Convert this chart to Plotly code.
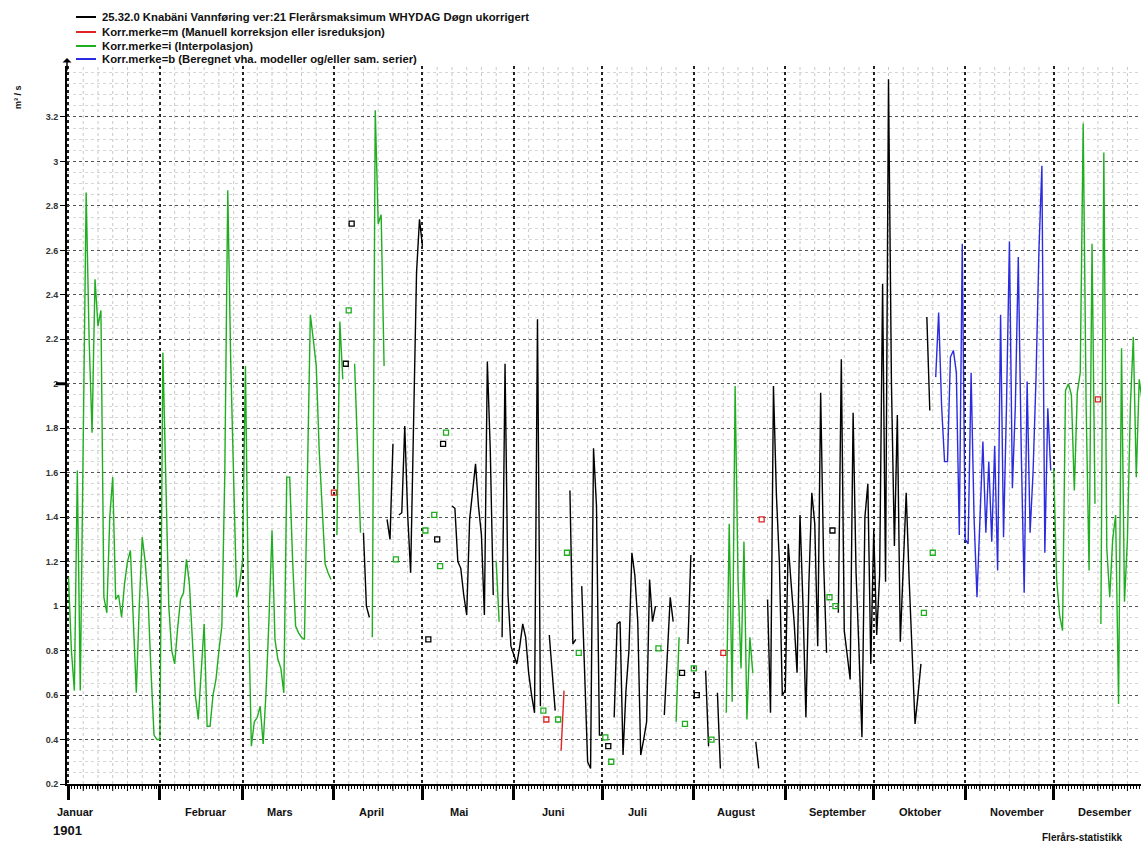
import plotly.graph_objects as go

# ---------------- data ----------------
month_names = ["Januar", "Februar", "Mars", "April", "Mai", "Juni", "Juli",
               "August", "September", "Oktober", "November", "Desember"]
month_start_day = [0, 31, 59, 90, 120, 151, 181, 212, 243, 273, 304, 334]
year_label = "1901"
y_tick_values = [0.2, 0.4, 0.6, 0.8, 1.0, 1.2, 1.4, 1.6, 1.8, 2.0, 2.2, 2.4, 2.6, 2.8, 3.0, 3.2]
y_tick_labels = ["0.2", "0.4", "0.6", "0.8", "1", "1.2", "1.4", "1.6", "1.8", "2",
                 "2.2", "2.4", "2.6", "2.8", "3", "3.2"]
legend_labels = [
    "25.32.0 Knabäni Vannføring ver:21 Flerårsmaksimum WHYDAG Døgn ukorrigert",
    "Korr.merke=m (Manuell korreksjon eller isreduksjon)",
    "Korr.merke=i (Interpolasjon)",
    "Korr.merke=b (Beregnet vha. modeller og/eller sam. serier)",
]
legend_codes = ["k", "m", "i", "b"]

# daily multi-year maximum (m3/s), one value per day; None = no value
jan_q = [1.13, 0.80, 0.62, 1.61, 0.62, 1.80, 2.86, 2.20, 1.78, 2.47, 2.26, 2.33, 1.04, 0.97, 1.40,
         1.58, 1.03, 1.05, 0.95, 1.10, 1.20, 1.25, 0.90, 0.61, 1.00, 1.31, 1.20, 1.03, 0.70, 0.42, 0.40]
jan_f = "iiiiiiiiiiiiiiiiiiiiiiiiiiiiiii"
feb_q = [0.40, 2.14, 1.50, 1.00, 0.80, 0.74, 0.90, 1.03, 1.06, 1.21, 1.10, 0.85, 0.60, 0.49,
         0.70, 0.92, 0.46, 0.46, 0.60, 0.67, 0.80, 0.91, 1.60, 2.87, 2.10, 1.50, 1.04, 1.10]
feb_f = "iiiiiiiiiiiiiiiiiiiiiiiiiiii"
mar_q = [1.20, 2.08, 1.00, 0.37, 0.48, 0.50, 0.55, 0.38, 0.62, 0.95, 1.34, 0.85, 0.76, 0.72, 0.61,
         1.58, 1.58, 1.20, 0.91, 0.88, 0.86, 0.85, 1.60, 2.31, 2.20, 2.08, 1.70, 1.45, 1.19, 1.15, 1.12]
mar_f = "iiiiiiiiiiiiiiiiiiiiiiiiiiiiiii"
apr_q = [1.51, 1.32, 2.28, 2.02, 2.09, 2.33, 2.72, 2.09, 1.70, 1.33, 1.33, 1.00, 0.95, 0.86, 3.23,
         2.72, 2.76, 2.08, 1.39, 1.30, 1.73, 1.21, 1.41, 1.42, 1.81, 1.41, 1.15, 1.90, 2.50, 2.74]
apr_f = "miiikikiiikkkiiiiikkkikkkkkkkk"
mai_q = [2.62, 1.34, 0.85, None, 1.41, 1.30, 1.18, 1.73, 1.78, None, 1.45, 1.44, 1.20, 1.17, 1.05,
         0.96, 1.39, 1.53, 1.64, 1.45, 1.32, 0.96, 2.10, 1.70, 1.05, 1.20, 0.93, 0.86, 2.09, 1.05, 0.82]
mai_f = "kik-ikiki-kkkkkkkkkkkkkkkiikkkk"
jun_q = [0.78, 0.74, 0.82, 0.92, 0.86, 0.70, 0.60, 0.52, 2.29, 0.55, 0.53, 0.49, 0.87, 0.70, 0.53,
         0.49, 0.35, 0.62, 1.24, 1.52, 0.83, 0.85, 0.79, 1.09, 0.65, 0.30, 0.27, 1.71, 1.45, 0.42]
jun_f = "kkkkkkkkkkimkkkimmikkkikkkkkkk"
jul_q = [0.42, 0.41, 0.37, 0.30, 0.50, 0.92, 0.93, 0.33, 0.62, 0.80, 1.24, 1.14, 0.93, 0.33, 0.40,
         0.48, 1.12, 0.93, 1.00, 0.81, None, 0.51, 0.78, 1.04, 0.93, 0.48, 0.86, 0.70, 0.47, 0.83, 1.23]
jul_f = "kikikkkkkkkkkkkkkkki-kkkkiikikk"
aug_q = [0.72, 0.60, None, None, 0.71, 0.37, 0.40, None, 0.61, 0.27, 0.79, 0.52, 1.37, 0.57, 1.99,
         1.11, 0.72, 1.29, 0.49, 0.86, 0.70, 0.39, 0.27, 1.39, None, 1.03, 0.52, 1.99, 1.50, 1.20, 0.60]
aug_f = "ik--kki-kkmiiiiiiiiiikkm-kkkkkk"
sep_q = [0.62, 1.28, 1.10, 0.93, 0.70, 1.41, 1.01, 0.50, 1.10, 1.51, 1.37, 0.82, 1.96, 1.20, 0.79,
         1.04, 1.34, 1.00, 0.97, 2.11, 0.89, 0.78, 0.67, 1.87, 1.15, 0.80, 0.41, 1.40, 1.55, 0.74]
sep_f = "kkkkkkkkkkkkkkkikikkkkkkkkkkkk"
okt_q = [1.34, 0.87, 1.14, 2.45, 1.11, 3.37, 2.00, 1.27, 1.86, 0.84, 1.20, 1.51, 1.12, 0.80, 0.47,
         0.60, 0.74, 0.97, 2.30, 1.88, 1.24, 2.03, 2.32, 1.90, 1.65, 1.65, 2.12, 2.15, 2.05, 1.32, 2.63]
okt_f = "kkkkkkkkkkkkkkkkkikkibbbbbbbbbb"
nov_q = [1.30, 1.28, 2.05, 1.40, 1.04, 1.40, 1.74, 1.33, 1.65, 1.29, 1.72, 1.16, 2.31, 1.31, 1.90,
         2.64, 1.53, 1.90, 2.57, 1.70, 1.06, 2.01, 1.33, 1.60, 2.02, 2.60, 2.98, 1.24, 1.89, 1.61]
nov_f = "bbbbbbbbbbbbbbbbbbbbbbbbbbbbbb"
des_q = [1.62, 1.12, 0.96, 0.89, 1.97, 2.00, 1.95, 1.52, 1.96, 2.05, 3.17, 1.90, 1.16, 2.63, 1.46,
         1.93, 0.92, 3.04, 1.26, 1.04, 1.30, 1.41, 0.56, 2.16, 1.02, 1.30, 1.90, 2.21, 1.58, 2.02, 1.92]
des_f = "iiiiiiiiiiiiiiimiiiiiiiiiiiiiii"

# ---------------- assemble ----------------
values = jan_q + feb_q + mar_q + apr_q + mai_q + jun_q + jul_q + aug_q + sep_q + okt_q + nov_q + des_q
flags = jan_f + feb_f + mar_f + apr_f + mai_f + jun_f + jul_f + aug_f + sep_f + okt_f + nov_f + des_f
days = list(range(len(values)))
n_days = len(values)

colors = {"k": "#000000", "m": "#e02424", "i": "#1fae1f", "b": "#2b2be0"}
FONT = "Liberation Sans, Arial, sans-serif"

# pixel geometry of the plot area
L, R, T, B = 67, 0, 66, 62
W, H = 1141, 846
PW, PH = W - L - R, H - T - B


def px(x):
    return (x - L) / PW


def py(y):
    return (H - B - y) / PH


fig = go.Figure()

for code, col in colors.items():
    y = [v if (f == code and v is not None) else None for v, f in zip(values, flags)]
    fig.add_trace(go.Scatter(x=days, y=y, mode="lines", connectgaps=False,
                             line=dict(color=col, width=1.4), hoverinfo="skip", showlegend=False))
    xs, ys = [], []
    for d in days:
        if y[d] is None:
            continue
        left = d > 0 and y[d - 1] is not None
        right = d < n_days - 1 and y[d + 1] is not None
        if not left and not right:
            xs.append(d)
            ys.append(y[d])
    if xs:
        fig.add_trace(go.Scatter(x=xs, y=ys, mode="markers",
                                 marker=dict(symbol="square-open", size=5, color=col,
                                             line=dict(width=1.3, color=col)),
                                 hoverinfo="skip", showlegend=False))

shapes = []
# light 5-day vertical dotted grid + medium ticks
bounds = month_start_day + [365]
for m in range(12):
    s, e = bounds[m], bounds[m + 1]
    k = 1
    while s + 5 * k < e - 2:
        xx = s + 5 * k
        shapes.append(dict(type="line", xref="x", yref="paper", x0=xx, x1=xx, y0=0, y1=1,
                           line=dict(color="#c8c8c8", width=1, dash="dot"), layer="below"))
        shapes.append(dict(type="line", xref="x", yref="paper", x0=xx, x1=xx, y0=0, y1=-7 / PH,
                           line=dict(color="#000", width=1)))
        k += 1

# thicker tick at y = 2
shapes.append(dict(type="line", xref="paper", yref="y", x0=px(56), x1=px(67), y0=2.0, y1=2.0,
                   line=dict(color="#000", width=3)))

annotations = []
# legend
legend_rows = [17, 32, 46, 59]
for lab, code, ry in zip(legend_labels, legend_codes, legend_rows):
    shapes.append(dict(type="line", xref="paper", yref="paper", x0=px(76), x1=px(96),
                       y0=py(ry), y1=py(ry), line=dict(color=colors[code], width=2)))
    annotations.append(dict(text=lab, xref="paper", yref="paper", x=px(100), y=py(ry),
                            xanchor="left", yanchor="middle", showarrow=False,
                            font=dict(family=FONT, size=11.3, color="#111", weight="bold")))

# month labels
month_label_px = [75, 206, 280, 371, 459, 553, 637, 736, 838, 920, 1017, 1105]
for name, mx in zip(month_names, month_label_px):
    annotations.append(dict(text=name, xref="paper", yref="paper", x=px(mx), y=py(812),
                            xanchor="center", yanchor="middle", showarrow=False,
                            font=dict(family=FONT, size=11, color="#111", weight="bold")))

annotations.append(dict(text=year_label, xref="paper", yref="paper", x=px(51), y=py(831),
                        xanchor="left", yanchor="middle", showarrow=False,
                        font=dict(family=FONT, size=13, color="#111", weight="bold")))
annotations.append(dict(text="Flerårs-statistikk", xref="paper", yref="paper", x=px(1124), y=py(837),
                        xanchor="right", yanchor="middle", showarrow=False,
                        font=dict(family=FONT, size=10, color="#111", weight="bold")))
annotations.append(dict(text="m³ / s", xref="paper", yref="paper", x=px(18), y=py(97),
                        xanchor="center", yanchor="middle", showarrow=False, textangle=-90,
                        font=dict(family=FONT, size=9, color="#111", weight="bold")))
# arrow on top of the y axis
annotations.append(dict(text="", xref="paper", yref="paper", x=0, y=py(58), ax=0, ay=14,
                        showarrow=True, arrowhead=1, arrowsize=1, arrowwidth=1.5, arrowcolor="#000"))

fig.update_layout(
    width=W, height=H,
    margin=dict(l=L, r=R, t=T, b=B),
    plot_bgcolor="white", paper_bgcolor="white",
    showlegend=False,
    shapes=shapes,
    annotations=annotations,
)

fig.update_xaxes(
    range=[-0.5, 363.6],
    tickmode="array", tickvals=month_start_day, showticklabels=False,
    ticks="outside", ticklen=14, tickwidth=3, tickcolor="#000",
    showgrid=True, gridcolor="#222", griddash="dot", gridwidth=2,
    showline=True, linecolor="#000", linewidth=2, zeroline=False,
    minor=dict(dtick=1, tick0=0, ticks="outside", ticklen=3, tickcolor="#000", tickwidth=1,
               showgrid=False),
)
fig.update_yaxes(
    range=[0.2, 0.2 + PH / 222.35],
    tickmode="array", tickvals=y_tick_values, ticktext=y_tick_labels,
    ticks="outside", ticklen=5, tickwidth=1, tickcolor="#000",
    tickfont=dict(family=FONT, size=9, color="#333", weight="bold"),
    showgrid=True, gridcolor="#555", griddash="dot", gridwidth=1,
    showline=True, linecolor="#000", linewidth=2, zeroline=False,
    minor=dict(dtick=0.05, tick0=0.2, showgrid=True, gridcolor="#d6d6d6", griddash="dot", gridwidth=1),
)

fig.write_html("out.html")
